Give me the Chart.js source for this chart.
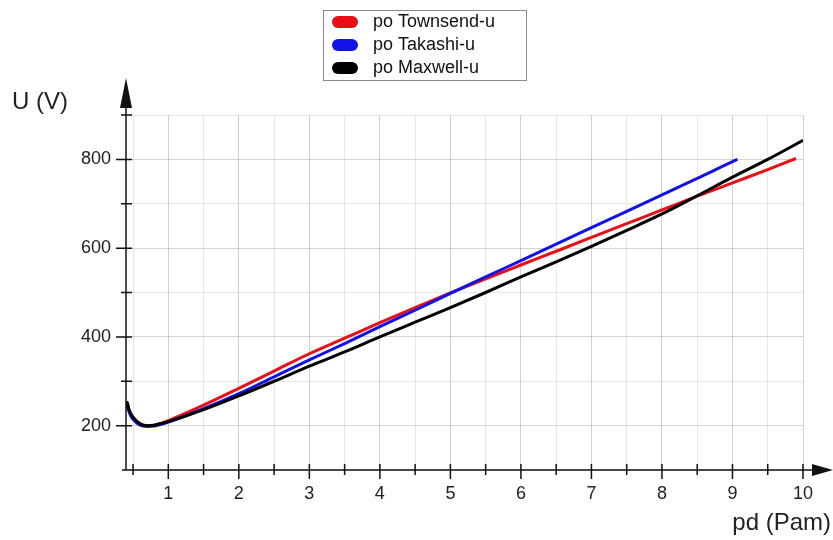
<!DOCTYPE html>
<html>
<head>
<meta charset="utf-8">
<script src="https://cdn.jsdelivr.net/npm/chart.js@4.4.1/dist/chart.umd.min.js"></script>
<style>
  html, body { margin: 0; padding: 0; background: #fff; }
  canvas { display: block; }
</style>
</head>
<body>
<canvas id="myChart" width="833" height="540"></canvas>
<script>
// pd (Pa·m) and breakdown voltage U (V)
const townsendPd = [0.42, 0.45, 0.5, 0.6, 0.7, 0.8, 0.9, 1, 1.5, 2, 2.5, 3, 3.5, 4, 4.5, 5, 5.5, 6, 6.5, 7, 7.5, 8, 8.5, 9, 9.5, 9.9];
const townsendU = [252, 232, 218, 204, 200, 201, 205, 211, 246, 284, 323, 362, 397, 432, 466, 499, 531, 562, 593, 624, 655, 686, 717, 747, 777, 802];

const takashiPd = [0.41, 0.45, 0.5, 0.6, 0.7, 0.8, 0.9, 1, 1.5, 2, 2.5, 3, 3.5, 4, 4.5, 5, 5.5, 6, 6.5, 7, 7.5, 8, 8.5, 9, 9.07];
const takashiU = [250, 228, 214, 201, 198, 199, 203, 208, 238, 272, 310, 348, 385, 423, 460, 498, 535, 572, 609, 646, 683, 720, 757, 795, 800];

const maxwellPd = [0.41, 0.45, 0.5, 0.6, 0.7, 0.8, 0.9, 1, 1.5, 2, 2.5, 3, 3.5, 4, 4.5, 5, 5.5, 6, 6.5, 7, 7.5, 8, 8.5, 9, 9.5, 10];
const maxwellU = [255, 233, 219, 204, 200, 201, 205, 209, 236, 267, 300, 334, 366, 400, 433, 466, 500, 535, 569, 604, 640, 677, 718, 760, 800, 843];

const xTicks = [0.5, 1, 1.5, 2, 2.5, 3, 3.5, 4, 4.5, 5, 5.5, 6, 6.5, 7, 7.5, 8, 8.5, 9, 9.5, 10];
const yTicks = [100, 200, 300, 400, 500, 600, 700, 800, 900];
const yLabels = [200, 400, 600, 800];

const FONT = '"Liberation Sans", Arial, sans-serif';

function pts(xs, ys) { return xs.map((v, i) => ({ x: v, y: ys[i] })) }

// axis lines with arrows, crossing tick marks and the two axis titles
const axisDecor = {
    id: 'axisDecor',
    afterDraw(chart) {
        const { ctx, chartArea: a, scales: { x, y } } = chart;
        ctx.save();
        ctx.strokeStyle = '#111';
        ctx.fillStyle = '#111';
        ctx.lineWidth = 1.5;
        ctx.beginPath();
        ctx.moveTo(a.left - 4, a.bottom);
        ctx.lineTo(a.right + 12, a.bottom);
        ctx.moveTo(a.left, a.bottom);
        ctx.lineTo(a.left, a.top - 8);
        xTicks.forEach(v => {
            const px = x.getPixelForValue(v);
            ctx.moveTo(px, a.bottom - 6);
            ctx.lineTo(px, a.bottom + (Number.isInteger(v) ? 9 : 5));
        });
        yTicks.forEach(v => {
            const py = y.getPixelForValue(v);
            if (v === 100) return;
            ctx.moveTo(a.left + 6, py);
            ctx.lineTo(a.left - (v % 200 === 0 ? 10 : 5), py);
        });
        ctx.stroke();

        // arrow heads
        ctx.beginPath();
        ctx.moveTo(a.left, a.top - 37);
        ctx.lineTo(a.left - 6, a.top - 7);
        ctx.lineTo(a.left + 6, a.top - 7);
        ctx.closePath();
        ctx.moveTo(a.right + 30, a.bottom);
        ctx.lineTo(a.right + 9, a.bottom - 6);
        ctx.lineTo(a.right + 9, a.bottom + 6);
        ctx.closePath();
        ctx.fill();

        ctx.fillStyle = '#222';
        ctx.font = '24px ' + FONT;
        ctx.textBaseline = 'middle';
        ctx.textAlign = 'left';
        ctx.fillText('U (V)', 12, a.top - 13);
        ctx.textAlign = 'right';
        ctx.fillText('pd (Pam)', a.right + 28, a.bottom + 53);
        ctx.restore();
    }
};

// boxed legend with pill markers, stacked
const boxLegend = {
    id: 'boxLegend',
    afterDraw(chart) {
        const ctx = chart.ctx;
        const left = 323, top = 10, w = 203, h = 70, row = 23;
        ctx.save();
        ctx.fillStyle = '#fff';
        ctx.fillRect(left, top, w, h);
        ctx.strokeStyle = '#8a8a8a';
        ctx.lineWidth = 1;
        ctx.strokeRect(left + 0.5, top + 0.5, w, h);
        ctx.font = '18px ' + FONT;
        ctx.textBaseline = 'middle';
        ctx.textAlign = 'left';
        chart.data.datasets.forEach((ds, i) => {
            const cy = top + 12 + i * row;
            ctx.fillStyle = ds.borderColor;
            ctx.beginPath();
            ctx.roundRect(left + 9, cy - 6, 26, 12, 6);
            ctx.fill();
            ctx.fillStyle = '#111';
            ctx.fillText(ds.label, left + 50, cy);
        });
        ctx.restore();
    }
};

let ctx = document.getElementById('myChart').getContext('2d');

let chart = new Chart(ctx, {
    type: 'scatter',
    data: {
        datasets: [{
            label: 'po Townsend-u',
            data: pts(townsendPd, townsendU),
            borderColor: 'rgb(232, 16, 20)',
            order: 2
        }, {
            label: 'po Takashi-u',
            data: pts(takashiPd, takashiU),
            borderColor: 'rgb(18, 18, 232)',
            order: 1
        }, {
            label: 'po Maxwell-u',
            data: pts(maxwellPd, maxwellU),
            borderColor: 'rgb(0, 0, 0)',
            order: 0
        }].map(ds => Object.assign(ds, {
            showLine: true,
            borderWidth: 3,
            pointRadius: 0,
            cubicInterpolationMode: 'monotone'
        }))
    },
    options: {
        responsive: false,
        animation: false,
        devicePixelRatio: 1,
        layout: { padding: { top: 115, right: 30, left: 0, bottom: 0 } },
        plugins: {
            legend: { display: false },
            tooltip: { enabled: false }
        },
        scales: {
            x: {
                type: 'linear',
                min: 0.4,
                max: 10,
                afterBuildTicks: s => { s.ticks = xTicks.map(v => ({ value: v })) },
                afterFit: s => { s.height = 70 },
                border: { display: false },
                grid: {
                    drawTicks: false,
                    color: c => Number.isInteger(c.tick && c.tick.value) ? 'rgba(0,0,0,0.18)' : 'rgba(0,0,0,0.09)'
                },
                ticks: {
                    autoSkip: false,
                    maxRotation: 0,
                    padding: 13,
                    color: '#222',
                    font: { family: FONT, size: 18 },
                    callback: v => Number.isInteger(v) ? v : ''
                }
            },
            y: {
                type: 'linear',
                min: 100,
                max: 900,
                afterBuildTicks: s => { s.ticks = yTicks.map(v => ({ value: v })) },
                afterFit: s => { s.width = 126 },
                border: { display: false },
                grid: {
                    drawTicks: false,
                    color: c => (c.tick && c.tick.value % 200 === 0) ? 'rgba(0,0,0,0.17)' : 'rgba(0,0,0,0.09)'
                },
                ticks: {
                    autoSkip: false,
                    padding: 15,
                    color: '#222',
                    font: { family: FONT, size: 18 },
                    callback: v => yLabels.includes(v) ? v : ''
                }
            }
        }
    },
    plugins: [axisDecor, boxLegend]
});
</script>
</body>
</html>
